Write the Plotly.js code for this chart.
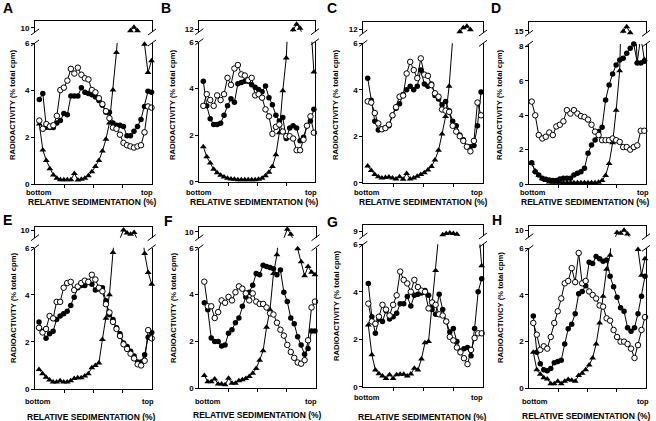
<!DOCTYPE html>
<html><head><meta charset="utf-8">
<script src="https://cdn.plot.ly/plotly-3.0.1.min.js"></script>
<style>html,body{margin:0;padding:0;background:#fff}#chart{width:656px;height:421px}</style>
</head><body><div id="chart"></div>
<script>
// ---------- DATA (fraction number, % total cpm) ----------
const fractions = [1,2,3,4,5,6,7,8,9,10,11,12,13,14,15,16,17,18,19,20,21,22,23,24,25,26,27,28,29,30,31,32,33];

const aFilled = [3.6,3.85,2.42,2.4,2.4,2.6,2.7,3.0,2.95,3.75,3.75,3.75,4.1,3.9,3.85,3.8,3.7,3.55,3.35,3.05,3.05,2.6,2.5,2.5,2.45,2.05,2.05,2.25,2.45,2.75,3.3,3.95,3.9];
const aOpen   = [2.7,2.35,2.55,2.45,2.5,2.9,4.0,4.1,4.4,4.9,4.7,4.95,4.65,4.5,4.45,4.0,3.9,3.65,3.4,3.1,2.8,2.4,2.35,2.1,1.75,1.65,1.6,1.55,1.6,1.65,2.2,3.3,3.25];
const aTri    = [2.55,1.45,1.0,0.65,0.38,0.25,0.18,0.18,0.18,0.18,0.45,0.17,0.2,0.25,0.35,0.52,0.75,1.0,1.4,1.9,2.6,4.0,5.6,7.5,8.8,8.9,9.4,10.1,9.4,7.5,5.95,4.75,5.25];

const bFilled = [4.3,3.25,2.7,2.45,2.45,2.5,2.85,3.25,3.55,3.4,4.2,4.25,4.3,4.3,4.15,4.05,3.95,3.85,4.1,3.6,3.3,2.85,2.6,2.75,1.85,2.3,2.4,2.3,1.75,1.9,2.4,2.6,3.1];
const bOpen   = [3.25,3.75,3.5,3.25,3.7,3.5,3.75,4.45,4.15,4.85,5.0,4.6,4.55,4.35,4.45,3.7,3.75,3.6,3.1,2.8,2.05,2.35,2.45,2.15,1.95,1.95,1.85,1.35,1.35,1.8,2.4,2.8,2.1];
const bTri    = [1.5,1.07,0.8,0.53,0.38,0.28,0.2,0.15,0.12,0.1,0.08,0.08,0.08,0.08,0.08,0.08,0.1,0.15,0.25,0.4,0.65,1.15,2.1,3.9,5.3,8.5,11.9,13.0,12.2,10.0,8.0,7.0,4.7];

const cFilled = [4.5,3.55,2.65,2.27,2.3,2.37,2.45,2.9,3.2,3.4,3.8,4.0,4.15,4.0,4.15,4.85,4.25,4.15,4.25,3.75,3.6,3.35,3.5,3.1,2.65,2.45,2.05,1.85,1.55,1.55,1.6,2.45,3.9];
const cOpen   = [3.5,3.45,3.0,2.55,2.3,2.35,2.5,2.9,3.25,3.7,3.75,4.7,5.2,4.85,4.5,5.35,4.65,4.6,4.2,3.85,3.7,3.15,3.1,3.05,2.45,2.2,2.0,1.8,1.55,1.35,1.8,3.45,2.9];
const cTri    = [0.72,0.52,0.35,0.26,0.2,0.22,0.25,0.2,0.16,0.26,0.15,0.4,0.16,0.2,0.28,0.35,0.43,0.55,0.7,0.98,1.4,2.1,2.85,4.15,8.0,10.5,11.5,12.3,12.6,11.9,null,null,null];

const dFilled = [1.24,0.72,0.52,0.33,0.27,0.23,0.2,0.2,0.29,0.33,0.33,0.33,0.52,0.62,0.72,0.91,1.79,2.27,2.56,3.05,3.3,4.89,5.77,6.41,6.93,7.22,7.32,7.61,7.9,8.15,7.05,7.05,7.15];
const dOpen   = [4.8,4.0,2.85,2.65,2.75,3.0,2.85,3.35,3.45,3.65,4.3,4.1,4.3,4.1,3.95,3.9,3.75,3.45,3.05,2.85,2.55,2.55,2.55,2.65,2.55,2.45,2.15,2.15,2.0,2.15,2.25,3.1,3.1];
const dTri    = [1.2,0.75,0.5,0.3,0.2,0.12,0.1,0.1,0.1,0.08,0.08,0.08,0.08,0.08,0.08,0.08,0.08,0.08,0.08,0.1,0.2,0.5,1.2,2.4,4.3,6.6,14.9,15.8,14.6,11.0,7.1,8.6,7.25];

const eFilled = [2.85,2.45,2.15,2.35,2.45,2.95,3.1,3.2,3.3,3.55,3.9,4.3,4.4,4.4,4.55,4.45,4.2,4.25,4.3,3.75,3.15,2.95,2.6,2.35,1.95,1.8,1.6,1.4,1.15,1.15,1.45,2.2,2.4];
const eOpen   = [2.6,2.4,2.55,3.1,3.0,3.7,3.7,4.3,4.5,4.55,4.2,4.35,4.5,4.6,4.55,4.85,4.65,4.3,4.15,3.6,3.25,2.85,2.55,2.25,1.9,1.7,1.5,1.3,1.05,1.0,1.2,2.5,2.15];
const eTri    = [0.83,0.65,0.5,0.38,0.3,0.3,0.35,0.3,0.3,0.35,0.45,0.48,0.48,0.55,0.65,0.9,1.0,1.1,2.1,3.0,4.0,5.8,8.0,8.3,10.0,9.4,9.15,9.5,8.0,7.0,5.75,4.95,4.45];

const fFilled = [3.65,3.35,2.15,2.0,2.0,1.8,1.85,2.35,2.5,2.8,3.0,3.5,3.9,4.1,4.4,4.9,4.85,5.25,5.2,5.15,5.1,4.85,5.05,4.1,3.7,3.0,2.75,2.2,1.85,1.45,1.7,2.45,2.45];
const fOpen   = [4.55,3.5,3.5,3.0,3.25,3.75,3.65,3.9,3.75,4.1,4.35,4.25,4.05,3.75,4.05,3.7,3.6,3.6,3.45,3.2,3.15,2.8,2.5,2.25,1.85,1.55,1.3,1.1,1.05,1.2,2.05,3.45,3.7];
const fTri    = [0.55,0.28,0.28,0.4,0.18,0.18,0.15,0.43,0.22,0.22,0.32,0.36,0.42,0.5,0.64,0.85,1.2,1.6,2.6,3.35,4.9,5.7,7.5,8.7,10.5,9.5,8.0,5.95,5.4,4.8,5.2,4.95,4.85];

const gFilled = [4.35,2.95,2.25,2.85,2.75,3.2,2.85,2.95,3.1,3.5,3.5,3.8,3.4,3.85,3.9,3.95,4.05,3.85,3.25,3.05,3.9,3.25,2.75,2.3,2.45,1.9,1.5,1.6,1.65,1.3,2.45,4.0,4.55];
const gOpen   = [3.5,2.75,2.65,2.95,3.45,3.25,3.0,3.45,3.85,4.85,4.5,4.35,4.0,4.5,4.2,4.05,4.0,3.3,3.55,3.45,3.05,3.0,2.75,2.1,1.95,1.65,1.45,1.2,0.95,1.55,2.05,2.25,2.25];
const gTri    = [2.6,1.35,0.7,0.55,0.45,0.35,0.5,0.35,0.5,0.52,0.52,0.45,0.53,0.78,0.7,1.17,1.85,1.9,3.4,4.9,6.6,8.25,8.5,8.6,8.5,8.35,7.9,7.6,7.4,7.2,7.0,6.9,5.1];

const hFilled = [3.1,1.55,1.05,0.8,0.75,0.85,1.1,1.15,1.2,1.9,2.55,2.75,3.2,4.05,4.15,4.4,5.4,5.35,5.65,5.55,5.45,5.5,4.8,4.35,3.9,3.45,3.3,2.6,2.45,2.6,3.2,3.95,4.8];
const hOpen   = [2.8,2.3,1.65,1.8,1.7,2.2,2.8,3.3,3.85,4.5,4.6,5.15,4.55,5.8,4.5,4.6,4.15,4.0,3.85,3.55,3.5,3.0,2.9,2.5,2.2,2.0,2.0,1.9,1.7,1.3,1.85,2.5,3.05];
const hTri    = [1.55,0.8,0.6,0.45,0.4,0.2,0.2,0.3,0.2,0.3,0.38,0.35,0.3,0.55,0.65,0.8,1.0,1.3,1.9,2.8,3.95,5.1,5.7,7.5,9.5,9.35,9.95,9.2,8.5,7.5,5.95,4.85,5.55];

const lowerTicks  = [0,2,4,6];
const lowerTicksD = [0,2,4,6,8];
const upperTicks  = {A:10,B:12,C:12,D:15,E:10,F:10,G:9,H:10};
const yTitle  = 'RADIOACTIVITY (% total cpm)';
const yTitleH = 'RADIOACTIVICY (% total cpm)';
const xTitle  = 'RELATIVE SEDIMENTATION (%)';
const endLabels = ['bottom','top'];

// ---------- LAYOUT GEOMETRY (pixels) ----------
const W = 656, H = 421;
const FONT = '"Liberation Sans", Arial, Helvetica, sans-serif';
const geom = {
  A:{l:35,   r:152,  top:21,    up:27.7,  low:43,    bot:184,   max:6,    xr:[-0.23,33.14], yt:[13,105],  let:[8,8],     bo:[39,192.5],    to:[147,192.5],   xt:[93,202.5]},
  B:{l:199.3,r:315,  top:20.7,  up:29.3,  low:41.7,  bot:181.7, max:6,    xr:[-0.16,33.32], yt:[173,105], let:[166,8],   bo:[198.5,192.5], to:[311,192.5],   xt:[254,202.5]},
  C:{l:363.3,r:483,  top:22,    up:29.3,  low:43.3,  bot:182.7, max:6,    xr:[-0.24,33.56], yt:[336,105], let:[332,8],   bo:[366.5,192.5], to:[477,192.5],   xt:[423,202.5]},
  D:{l:529,  r:646,  top:22.3,  up:30.7,  low:44,    bot:184,   max:8.15, xr:[0.23,33.48],  yt:[500,105], let:[496,8],   bo:[532.5,192.5], to:[643,192.5],   xt:[585,202.5]},
  E:{l:35,   r:151.7,top:226.7, up:230,   low:247.7, bot:389,   max:6,    xr:[-0.14,33.0],  yt:[13,308],  let:[7,220],   bo:[37.5,401.5],  to:[148,401.5],   xt:[91,416.5]},
  F:{l:199.3,r:315.5,top:226.7, up:231.7, low:247.7, bot:388.3, max:6,    xr:[-0.45,33.15], yt:[173,308], let:[168,220.5],bo:[208,401],    to:[311,401],     xt:[257,414.5]},
  G:{l:363.3,r:483,  top:225,   up:231,   low:244.3, bot:386.7, max:6,    xr:[-0.41,33.37], yt:[336,306], let:[333,221.5],bo:[367,397.5],  to:[477,397.5],   xt:[422,416.5]},
  H:{l:529.3,r:646,  top:225.7, up:230,   low:248.3, bot:388.3, max:6,    xr:[-0.15,33.29], yt:[500,308], let:[497,220], bo:[535,401.5],   to:[643,401.5],   xt:[586,415.5]}
};

const panels = [
  {key:'A', filled:aFilled, open:aOpen, tri:aTri, lt:lowerTicks,  yt:yTitle},
  {key:'B', filled:bFilled, open:bOpen, tri:bTri, lt:lowerTicks,  yt:yTitle},
  {key:'C', filled:cFilled, open:cOpen, tri:cTri, lt:lowerTicks,  yt:yTitle},
  {key:'D', filled:dFilled, open:dOpen, tri:dTri, lt:lowerTicksD, yt:yTitle},
  {key:'E', filled:eFilled, open:eOpen, tri:eTri, lt:lowerTicks,  yt:yTitle},
  {key:'F', filled:fFilled, open:fOpen, tri:fTri, lt:lowerTicks,  yt:yTitle},
  {key:'G', filled:gFilled, open:gOpen, tri:gTri, lt:lowerTicks,  yt:yTitle},
  {key:'H', filled:hFilled, open:hOpen, tri:hTri, lt:lowerTicks,  yt:yTitleH}
];

const px = x => x / W, py = y => 1 - y / H;
const UPH = 11;          // height of upper (broken) segment, px
const tickFont = {family:FONT, size:8, color:'#000', weight:'bold'};
const lineTraces = [], markTraces = [];
const layout = {
  width:W, height:H, margin:{l:0,r:0,t:0,b:0},
  paper_bgcolor:'#fff', plot_bgcolor:'rgba(0,0,0,0)',
  showlegend:false, font:{family:FONT, color:'#000'},
  shapes:[], annotations:[]
};
const mk = {
  tri:   {symbol:'triangle-up', size:6, color:'#000', line:{width:0}},
  filled:{symbol:'circle', size:5.5, color:'#000', line:{width:0}},
  open:  {symbol:'circle', size:5.5, color:'#fff', line:{width:1, color:'#000'}}
};

panels.forEach((p, k) => {
  const g = geom[p.key];
  const nL = k + 1, nU = k + 9;
  const sL = nL === 1 ? '' : String(nL);
  const xL = 'x' + sL, yL = 'y' + sL, xU = 'x' + nU, yU = 'y' + nU;
  const upTick = upperTicks[p.key];
  const hi = upTick + (g.up - g.top) / 5, lo = hi - UPH / 5;
  const xd = [px(g.l), px(g.r)];
  const span = g.xr[1] - g.xr[0];
  const qt = [0.25, 0.5, 0.75].map(f => g.xr[0] + span * f);

  layout['xaxis' + sL] = {domain:xd, range:g.xr, anchor:yL, showline:true, linecolor:'#000', linewidth:1,
    ticks:'outside', ticklen:3, tickwidth:1, tickcolor:'#000', tickvals:qt, showticklabels:false,
    showgrid:false, zeroline:false, fixedrange:true};
  layout['yaxis' + sL] = {domain:[py(g.bot), py(g.low)], range:[0, g.max], anchor:xL, showline:true, mirror:true,
    linecolor:'#000', linewidth:1, ticks:'outside', ticklen:3, tickwidth:1, tickcolor:'#000',
    tickvals:p.lt, ticktext:p.lt.map(String), tickfont:tickFont, showgrid:false, zeroline:false, fixedrange:true};
  layout['xaxis' + nU] = {domain:xd, range:g.xr, anchor:yU, side:'top', showline:true, linecolor:'#000', linewidth:1,
    ticks:'', showticklabels:false, showgrid:false, zeroline:false, fixedrange:true};
  layout['yaxis' + nU] = {domain:[py(g.top + UPH), py(g.top)], range:[lo, hi], anchor:xU, showline:true, mirror:true,
    linecolor:'#000', linewidth:1, ticks:'outside', ticklen:3, tickwidth:1, tickcolor:'#000',
    tickvals:[upTick], ticktext:[String(upTick)], tickfont:tickFont, showgrid:false, zeroline:false, fixedrange:true};

  const series = [['tri', p.tri], ['filled', p.filled], ['open', p.open]];
  series.forEach(([name, arr]) => {
    lineTraces.push({x:fractions, y:arr, xaxis:xL, yaxis:yL, type:'scatter', mode:'lines',
      line:{color:'#000', width:1}, hoverinfo:'skip'});
    markTraces.push({x:fractions, y:arr.map(v => (v !== null && v <= g.max) ? v : null), xaxis:xL, yaxis:yL,
      type:'scatter', mode:'markers', marker:mk[name], cliponaxis:false, hoverinfo:'skip'});
  });
  // peak of the triangle series on the upper (broken) segment
  lineTraces.push({x:fractions, y:p.tri, xaxis:xU, yaxis:yU, type:'scatter', mode:'lines',
    line:{color:'#000', width:1}, hoverinfo:'skip'});
  markTraces.push({x:fractions, y:p.tri.map(v => (v !== null && v >= lo && v <= hi) ? v : null), xaxis:xU, yaxis:yU,
    type:'scatter', mode:'markers', marker:mk.tri, cliponaxis:false, hoverinfo:'skip'});

  // axis-break slashes
  [g.l, g.r].forEach(x => {
    [g.top + UPH, g.low].forEach(y => {
      layout.shapes.push({type:'line', xref:'paper', yref:'paper',
        x0:px(x - 4), y0:py(y + 3), x1:px(x + 4), y1:py(y - 3), line:{color:'#000', width:1}});
    });
  });

  const ann = (text, xy, size, extra) => layout.annotations.push(Object.assign({
    text, x:px(xy[0]), y:py(xy[1]), xref:'paper', yref:'paper', showarrow:false,
    xanchor:'center', yanchor:'middle', borderpad:0, font:{family:FONT, size, color:'#000'}}, extra || {}));
  ann('<b>' + p.key + '</b>', g.let, 14);
  ann('<b>' + p.yt + '</b>', g.yt, 7.7, {textangle:-90});
  ann('<b>' + endLabels[0] + '</b>', g.bo, 7.5);
  ann('<b>' + endLabels[1] + '</b>', g.to, 7.5);
  ann('<b>' + xTitle + '</b>', g.xt, 8.5);
});

Plotly.newPlot('chart', lineTraces.concat(markTraces), layout, {staticPlot:true, displayModeBar:false});
</script>
</body></html>
